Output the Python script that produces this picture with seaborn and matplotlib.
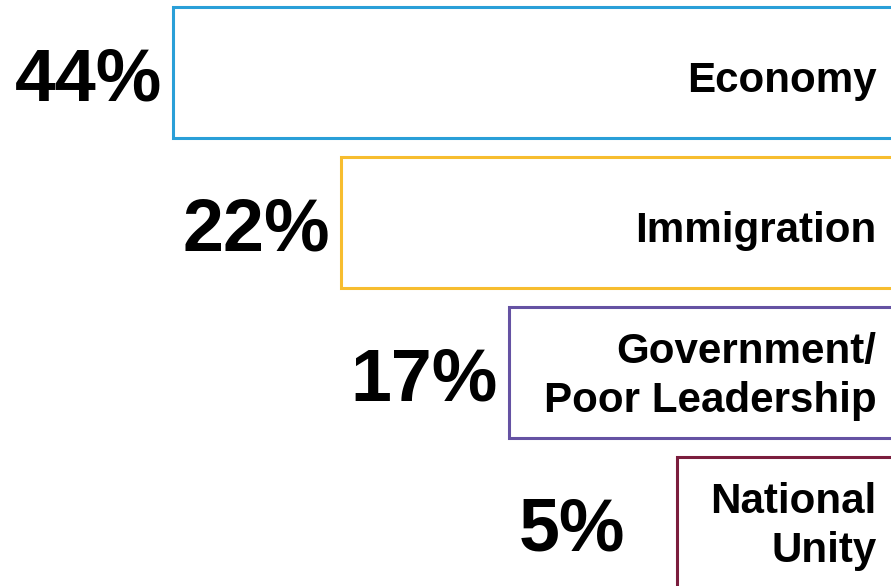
import matplotlib
matplotlib.use("Agg")
import matplotlib.pyplot as plt
import numpy as np
import pandas as pd
import seaborn as sns

# Top issues and their shares of responses
issues = ["Economy", "Immigration", "Government/\nPoor Leadership", "National\nUnity"]
shares = [44, 22, 17, 5]
share_labels = ["44%", "22%", "17%", "5%"]
edge_colors = ["#2a9fd8", "#f7bd2f", "#6552a3", "#7b1d3d"]

sns.set_style("white")
plt.rcParams["font.family"] = ["Liberation Sans", "DejaVu Sans"]

df = pd.DataFrame({"issue": issues, "share": shares})
# Staircase layout: each bar reaches out according to its rank among the shares
df["reach"] = df["share"].rank() + 0.5

fig = plt.figure(figsize=(8.91, 5.86), dpi=100)
ax = fig.add_axes([0, 0, 1, 1])

sns.barplot(
    data=df, x="reach", y="issue", hue="issue", palette=edge_colors,
    orient="h", width=0.873, fill=False, linewidth=2.2, legend=False, ax=ax,
)
for patch, color in zip(ax.patches, edge_colors):
    patch.set_facecolor("white")
    patch.set_edgecolor(color)
    patch.set_linewidth(2.2)

# Bars grow leftwards from beyond the right edge
ax.set_xlim(5.530, 0.226)
ax.set_ylim(3.423, -0.483)
ax.axis("off")

for i, row in df.iterrows():
    # big percentage to the left of each bar
    ax.annotate(
        share_labels[i], xy=(row["reach"], i), xycoords="data",
        xytext=(-114, -20), textcoords="offset points",
        ha="left", va="baseline", fontsize=53, fontweight="bold", color="black",
    )
    # issue name right-aligned inside the bar (baseline of the last line)
    n_lines = row["issue"].count("\n") + 1
    dy = -(19.5 + 20 * (n_lines - 1)) * 0.72
    ax.annotate(
        row["issue"], xy=(0.984, i), xycoords=("axes fraction", "data"),
        xytext=(0, dy), textcoords="offset points",
        ha="right", va="baseline", multialignment="right",
        fontsize=30.3, fontweight="bold", color="black", linespacing=1.3,
    )

fig.savefig("out.png", dpi=100, facecolor="white")
